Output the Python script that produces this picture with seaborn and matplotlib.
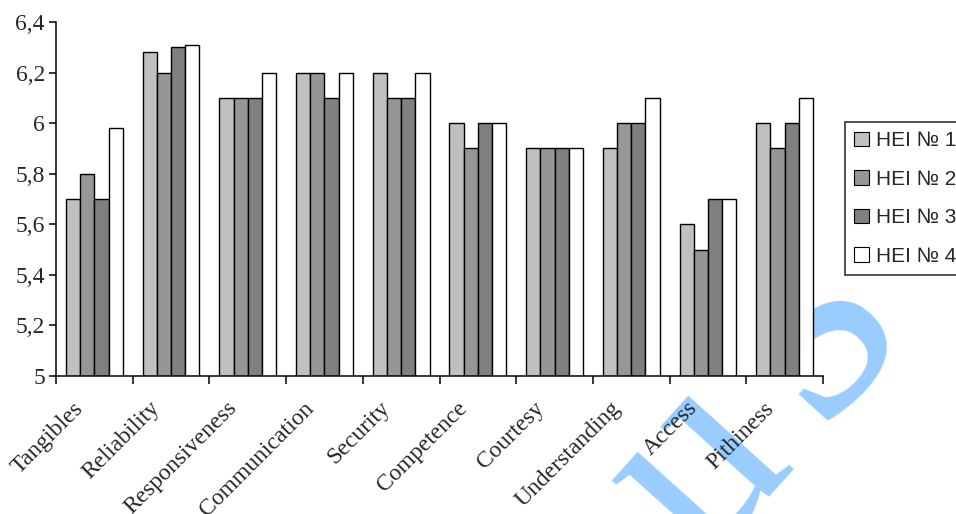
import numpy as np
import pandas as pd
import matplotlib
matplotlib.use("Agg")
import matplotlib.pyplot as plt
import seaborn as sns
from matplotlib.patches import Rectangle
from matplotlib.transforms import ScaledTranslation

# --- data -----------------------------------------------------------------
categories = ["Tangibles", "Reliability", "Responsiveness", "Communication",
              "Security", "Competence", "Courtesy", "Understanding",
              "Access", "Pithiness"]
series = ["HEI № 1", "HEI № 2", "HEI № 3", "HEI № 4"]
hei1 = [5.70, 6.28, 6.10, 6.20, 6.20, 6.00, 5.90, 5.90, 5.60, 6.00]
hei2 = [5.80, 6.20, 6.10, 6.20, 6.10, 5.90, 5.90, 6.00, 5.50, 5.90]
hei3 = [5.70, 6.30, 6.10, 6.10, 6.10, 6.00, 5.90, 6.00, 5.70, 6.00]
hei4 = [5.98, 6.31, 6.20, 6.20, 6.20, 6.00, 5.90, 6.10, 5.70, 6.10]
y_ticks = [5.0, 5.2, 5.4, 5.6, 5.8, 6.0, 6.2, 6.4]
y_tick_labels = ["5", "5,2", "5,4", "5,6", "5,8", "6", "6,2", "6,4"]
bar_colors = ["#c0c0c0", "#969696", "#808080", "#ffffff"]

df = pd.DataFrame({
    "category": categories * 4,
    "series": np.repeat(series, len(categories)),
    "value": hei1 + hei2 + hei3 + hei4,
})

# --- style ----------------------------------------------------------------
sns.set_theme(style="white")
plt.rcParams["font.family"] = ["Liberation Serif", "DejaVu Serif"]

W, H = 956, 514
fig = plt.figure(figsize=(W / 100, H / 100), dpi=100, facecolor="white")
ax = fig.add_axes([56 / W, 1 - 376 / H, (823 - 56) / W, (376 - 22) / H])
ax.set_facecolor("none")

sns.barplot(data=df, x="category", y="value", hue="series",
            palette=bar_colors, edgecolor="black", linewidth=1.0,
            width=0.74, gap=0, saturation=1, ax=ax)

ax.set_ylim(5.0, 6.4)
ax.set_xlim(-0.5, len(categories) - 0.5)
ax.set_xlabel("")
ax.set_ylabel("")

# axes frame: left and bottom only
for side in ("top", "right"):
    ax.spines[side].set_visible(False)
for side in ("left", "bottom"):
    ax.spines[side].set_color("black")
    ax.spines[side].set_linewidth(1.1)

# y axis
ax.set_yticks(y_ticks)
ax.set_yticklabels(y_tick_labels, fontsize=17)
ax.tick_params(axis="y", direction="out", length=5, width=1.1,
               color="black", pad=3, left=True)

# x axis: tick marks between categories, labels at the centres
ax.set_xticks(np.arange(len(categories)))
ax.set_xticks(np.arange(len(categories) + 1) - 0.5, minor=True)
ax.tick_params(axis="x", which="major", length=0, pad=21)
ax.tick_params(axis="x", which="minor", direction="out", length=6,
               width=1.1, color="black", bottom=True)
shift = ScaledTranslation(-14 / 100, 0, fig.dpi_scale_trans)
for lab in ax.get_xticklabels():
    lab.set_rotation(45)
    lab.set_rotation_mode("anchor")
    lab.set_ha("right")
    lab.set_va("center")
    lab.set_fontsize(17)
    lab.set_transform(lab.get_transform() + shift)

# legend
handles, labels = ax.get_legend_handles_labels()
ax.get_legend().remove()
leg = fig.legend(handles, labels, loc="upper left",
                 bbox_to_anchor=(845 / W, 1 - 122 / H),
                 bbox_transform=fig.transFigure,
                 prop={"family": ["Liberation Sans", "DejaVu Sans"], "size": 15},
                 frameon=True, fancybox=False, shadow=False,
                 handlelength=0.72, handleheight=0.7, handletextpad=0.3,
                 labelspacing=0.93, borderpad=0.45, borderaxespad=0)
leg.get_frame().set_edgecolor("black")
leg.get_frame().set_linewidth(1.2)
for p in leg.get_patches():
    p.set_edgecolor("black")
    p.set_linewidth(0.8)

# watermark letters, kept behind the plotting area
wm = dict(color="#99ccff", rotation=48, rotation_mode="anchor",
          family=["Liberation Serif", "DejaVu Serif"], ha="center",
          va="center", zorder=-2)
fig.text(700 / W, 1 - 470 / H, "u", fontsize=200, **wm)
fig.text(800 / W, 1 - 318 / H, "s", fontsize=250, **wm)
fig.patches.append(Rectangle((0, 1 - 376 / H), 813 / W, 376 / H,
                             transform=fig.transFigure, facecolor="white",
                             edgecolor="none", zorder=-1))

fig.savefig("out.png", dpi=100, facecolor="white")
